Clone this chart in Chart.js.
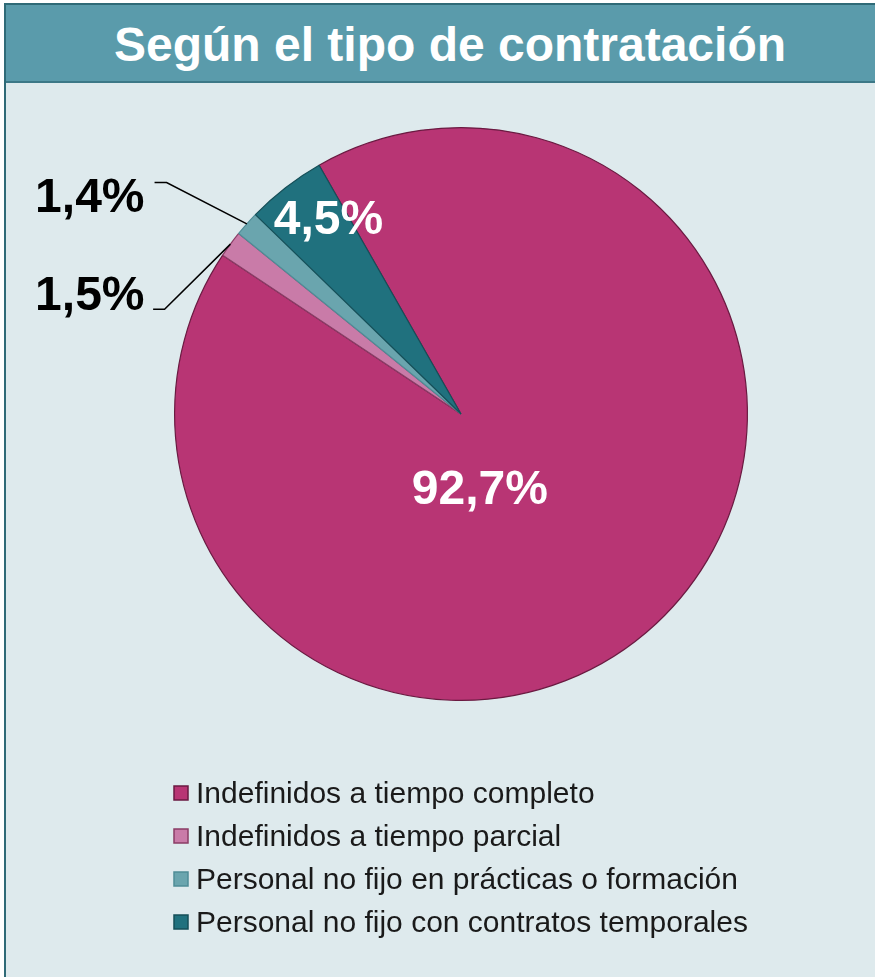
<!DOCTYPE html>
<html lang="es">
<head>
<meta charset="utf-8">
<title>Según el tipo de contratación</title>
<script src="https://cdn.jsdelivr.net/npm/chart.js@4.4.1/dist/chart.umd.min.js"></script>
<style>
  html, body { margin: 0; padding: 0; width: 875px; height: 977px; overflow: hidden; background: #ffffff; }
  #frame {
    position: absolute; left: 4px; top: 3px; width: 888px; height: 1000px;
    border-left: 2px solid #2f6a77; border-top: 2px solid #2f6a77;
    background: #deeaed;
  }
  #title {
    height: 76px; background: #5a9bab; border-bottom: 2px solid #3c7887;
    color: #ffffff; font: bold 48px "Liberation Sans", Arial, sans-serif;
    text-align: center; line-height: 80px;
  }
  #chart { position: absolute; left: 0; top: 0; }
</style>
</head>
<body>
<div id="frame"><div id="title">Según el tipo de contratación</div></div>
<canvas id="chart" width="875" height="977"></canvas>
<script>
// datos
const categories = [
  "Indefinidos a tiempo completo",
  "Indefinidos a tiempo parcial",
  "Personal no fijo en prácticas o formación",
  "Personal no fijo con contratos temporales"
];
const values = [92.7, 1.5, 1.4, 4.5];
const valueLabels = ["92,7%", "1,5%", "1,4%", "4,5%"];

const sliceColors = ["#b83574", "#c97ba8", "#6aa5ae", "#20717e"];
const sliceBorders = ["#6a1a41", "#8a3d66", "#4f8d97", "#154f58"];

// etiquetas: dentro (offset en unidades de radio) o fuera con linea guia
const labelStyle = [
  { inside: true, dx: 0.066, dy: 0.268, color: "#ffffff" },
  { inside: false, elbowX: -1.035, elbowY: -0.366, endX: -1.075, textX: -1.105, textY: -0.408, color: "#000000" },
  { inside: false, elbowX: -1.028, elbowY: -0.808, endX: -1.07, textX: -1.105, textY: -0.753, color: "#000000" },
  { inside: true, dx: -0.463, dy: -0.673, color: "#ffffff" }
];

const FONT = '"Liberation Sans", Arial, sans-serif';

const labelsPlugin = {
  id: "labelsPlugin",
  afterDraw(chart) {
    const ctx = chart.ctx;
    const arcs = chart.getDatasetMeta(0).data;
    ctx.save();
    ctx.font = "bold 48px " + FONT;
    ctx.textBaseline = "middle";
    arcs.forEach((arc, i) => {
      const st = labelStyle[i];
      const r = arc.outerRadius;
      const cx = arc.x, cy = arc.y;
      ctx.fillStyle = st.color;
      if (st.inside) {
        ctx.textAlign = "center";
        ctx.fillText(valueLabels[i], cx + st.dx * r, cy + st.dy * r);
      } else {
        const mid = (arc.startAngle + arc.endAngle) / 2;
        const px = cx + Math.cos(mid) * r;
        const py = cy + Math.sin(mid) * r;
        ctx.strokeStyle = "#000000";
        ctx.lineWidth = 1.5;
        ctx.beginPath();
        ctx.moveTo(px, py);
        ctx.lineTo(cx + st.elbowX * r, cy + st.elbowY * r);
        ctx.lineTo(cx + st.endX * r, cy + st.elbowY * r);
        ctx.stroke();
        ctx.textAlign = "right";
        ctx.fillText(valueLabels[i], cx + st.textX * r, cy + st.textY * r);
      }
    });

    // leyenda
    ctx.font = "30px " + FONT;
    ctx.textAlign = "left";
    const rowsY = [793, 836, 879, 922];
    categories.forEach((name, i) => {
      const y = rowsY[i];
      ctx.fillStyle = sliceColors[i];
      ctx.fillRect(174, y - 7, 14, 14);
      ctx.strokeStyle = sliceBorders[i];
      ctx.lineWidth = 1.5;
      ctx.strokeRect(174, y - 7, 14, 14);
      ctx.fillStyle = "#1a1a1a";
      ctx.fillText(name, 196, y + 2);
    });
    ctx.restore();
  }
};

new Chart(document.getElementById("chart"), {
  type: "pie",
  data: {
    labels: categories,
    datasets: [{
      data: values,
      backgroundColor: sliceColors,
      borderColor: sliceBorders,
      borderWidth: 1.2
    }]
  },
  options: {
    responsive: false,
    animation: false,
    rotation: -29.7,
    layout: { padding: { left: 174, right: 127, top: 127, bottom: 276 } },
    plugins: {
      legend: { display: false },
      title: { display: false },
      tooltip: { enabled: false }
    }
  },
  plugins: [labelsPlugin]
});
</script>
</body>
</html>
